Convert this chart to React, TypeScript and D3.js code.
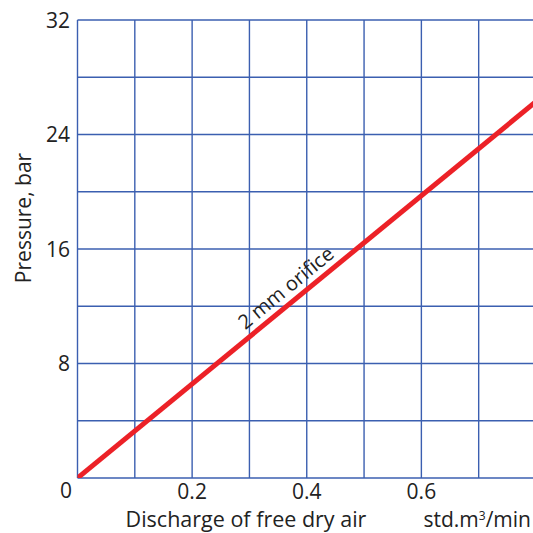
import React from 'react';
import * as d3 from 'd3';

// discharge of free dry air (std.m3/min) vs pressure (bar) for a 2 mm orifice
const discharge = [0, 0.8];
const pressure = [0, 26.3];
const xTicks = [0.2, 0.4, 0.6];
const yTicks = [0, 8, 16, 24, 32];
const xGrid = [0, 0.1, 0.2, 0.3, 0.4, 0.5, 0.6, 0.7, 0.8];
const yGrid = [0, 4, 8, 12, 16, 20, 24, 28, 32];
const lineLabel = '2 mm orifice';

const W = 533;
const H = 533;
const margin = { top: 20, right: -3, bottom: 55, left: 77.5 };
const font = "'Open Sans', 'Noto Sans', sans-serif";

export default function App() {
  const x = d3.scaleLinear().domain([0, 0.8]).range([margin.left, W - margin.right]);
  const y = d3.scaleLinear().domain([0, 32]).range([H - margin.bottom, margin.top]);

  const pts = discharge.map((d, i) => [d, pressure[i]] as [number, number]);
  const line = d3.line<[number, number]>().x(d => x(d[0])).y(d => y(d[1]));

  // label placed along the line
  const lx = 0.38;
  const ly = pressure[1] / discharge[1] * lx;
  const angle = Math.atan2(y(ly) - y(0), x(lx) - x(0)) * 180 / Math.PI;

  return (
    <svg width={W} height={H} style={{ position: 'absolute', left: 0, top: 0 }}>
      <rect width={W} height={H} fill="#fff" />
      <defs>
        <clipPath id="plot">
          <rect x={x(0)} y={y(32)} width={x(0.8) - x(0)} height={y(0) - y(32)} />
        </clipPath>
      </defs>
      <g stroke="#3b5fb0" strokeWidth={1.4}>
        {xGrid.map(v => (
          <line key={'x' + v} x1={x(v)} x2={x(v)} y1={y(0)} y2={y(32)} />
        ))}
        {yGrid.map(v => (
          <line key={'y' + v} x1={x(0)} x2={x(0.8)} y1={y(v)} y2={y(v)} />
        ))}
      </g>
      <path d={line(pts) || ''} fill="none" stroke="#ec2127" strokeWidth={5} clipPath="url(#plot)" />
      <text
        transform={`translate(${x(lx) - 5},${y(ly) - 6}) rotate(${angle})`}
        textAnchor="middle"
        fontFamily={font}
        fontSize={20}
        fill="#222"
      >
        {lineLabel}
      </text>
      <g fontFamily={font} fontSize={21} fill="#222">
        {yTicks.map(v => (
          <text
            key={'yt' + v}
            x={v === 0 ? 66 : 70}
            y={v === 0 ? 498 : y(v) + 7.5}
            textAnchor={v === 0 ? 'middle' : 'end'}
          >
            {v}
          </text>
        ))}
        {xTicks.map(v => (
          <text key={'xt' + v} x={x(v)} y={499} textAnchor="middle">
            {v}
          </text>
        ))}
        <text transform={`translate(31,218) rotate(-90)`} textAnchor="middle">
          Pressure, bar
        </text>
        <text x={246} y={527} textAnchor="middle" fontSize={21.5}>
          Discharge of free dry air
        </text>
        <text x={531} y={527} textAnchor="end">
          std.m<tspan dy={-7} fontSize={12}>3</tspan>
          <tspan dy={7}>/min</tspan>
        </text>
      </g>
    </svg>
  );
}
